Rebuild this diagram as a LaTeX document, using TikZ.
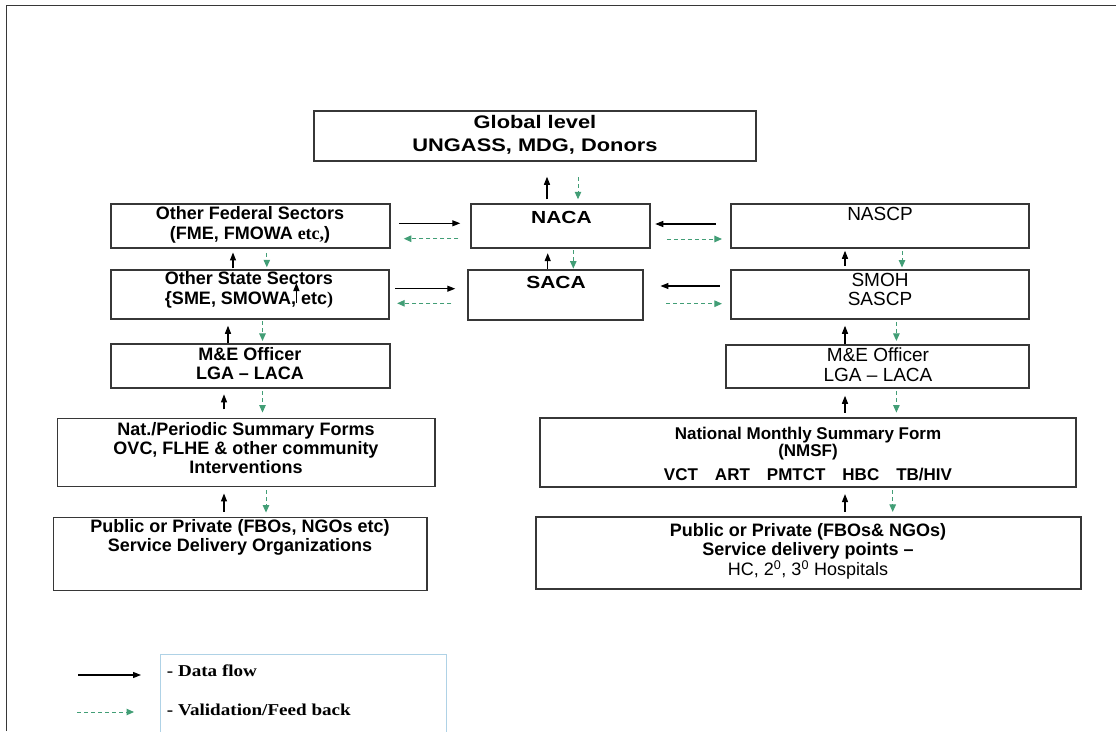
\documentclass[tikz,border=0pt]{standalone}
\usepackage{fontspec}
\setmainfont{Liberation Sans}
\newfontfamily\widesf[FakeStretch=1.2]{Liberation Sans}
\newfontfamily\legendrm[FakeStretch=1.15]{Liberation Serif}
\newfontfamily\etcrm{Liberation Serif}
\usepackage{tikz}
\usetikzlibrary{arrows.meta, calc}

\definecolor{fbgreen}{RGB}{66,158,118}
\definecolor{legendblue}{RGB}{175,210,230}
\definecolor{boxgray}{RGB}{55,55,55}

\begin{document}
\begin{tikzpicture}[x=1pt, y=-1pt,
    box/.style={draw=boxgray, line width=1.5pt, inner sep=0pt},
    boxtext/.style={align=center, inner sep=0pt, font=\fontsize{18}{20}\selectfont\bfseries},
    bigtext/.style={align=center, inner sep=0pt, font=\widesf\fontsize{18.2}{23}\selectfont\bfseries},
    dataflow/.style={-{Triangle[length=8pt, width=6pt]}, line width=1.2pt},
    feedback/.style={-{Triangle[length=7.5pt, width=6.5pt]}, fbgreen, line width=1pt, dash pattern=on 4pt off 3pt}
]
    \useasboundingbox (0,0) rectangle (1116,731);
    \draw[boxgray, line width=1.5pt] (6.5,731) -- (6.5,5.5) -- (1116,5.5);

    % boxes
    \node[box, minimum width=442, minimum height=50] at (535,136) (glob) {};
    \node[box, minimum width=279, minimum height=44] at (250.5,226) (ofed) {};
    \node[box, minimum width=179, minimum height=44] at (560.5,226) (naca) {};
    \node[box, minimum width=298, minimum height=44] at (880,226) (nascp) {};
    \node[box, minimum width=278, minimum height=49] at (250,294.5) (ostate) {};
    \node[box, minimum width=175, minimum height=50] at (555.5,295) (saca) {};
    \node[box, minimum width=298, minimum height=49] at (880,294.5) (smoh) {};
    \node[box, minimum width=279, minimum height=44] at (250.5,366) (mel) {};
    \node[box, minimum width=303, minimum height=43] at (877.5,366.5) (mer) {};
    \node[box, minimum width=377.5, minimum height=68] at (246,452.7) (nat) {};
    \node[box, minimum width=536, minimum height=69] at (808,452.5) (nmsf) {};
    \node[box, minimum width=373.4, minimum height=73] at (240.3,554.2) (publ) {};
    \node[box, minimum width=545, minimum height=72] at (808.5,553) (pubr) {};

    % texts
    \node[bigtext] at (535,134.5) (globtxt) {Global level\\UNGASS, MDG, Donors};
    \node[boxtext] at (250,225) (ofedtxt) {Other Federal Sectors\\(FME, FMOWA {\etcrm etc,})};
    \node[bigtext, font=\widesf\fontsize{17.5}{20}\selectfont\bfseries] at (561.5,217.3) (nacatxt) {NACA};
    \node[boxtext, font=\fontsize{19}{20}\selectfont] at (880,214.3) (nascptxt) {NASCP};
    \node[boxtext] at (249,290) (ostatetxt) {Other State Sectors\\\{SME, SMOWA, etc{\etcrm)}};
    \node[bigtext, font=\widesf\fontsize{17.5}{20}\selectfont\bfseries] at (556,282.3) (sacatxt) {SACA};
    \node[boxtext, font=\fontsize{19}{19}\selectfont] at (880,289.5) (smohtxt) {SMOH\\SASCP};
    \node[boxtext, font=\fontsize{18}{19.3}\selectfont\bfseries] at (250,363.7) (meltxt) {M\&E Officer\\LGA – LACA};
    \node[boxtext, font=\fontsize{19}{20}\selectfont] at (878,365) (mertxt) {M\&E Officer\\LGA – LACA};
    \node[boxtext, font=\fontsize{18}{19}\selectfont\bfseries] at (246,448) (nattxt) {Nat./Periodic Summary Forms\\OVC, FLHE \& other community\\Interventions};
    \node[boxtext, font=\fontsize{17}{17}\selectfont\bfseries] at (808,454) (nmsftxt) {National Monthly Summary Form\\(NMSF)\\[6.6pt]VCT\quad ART\quad PMTCT\quad HBC\quad TB/HIV};
    \node[boxtext, font=\fontsize{18}{19}\selectfont\bfseries] at (240,537.8) (publtxt) {Public or Private (FBOs, NGOs etc)\\Service Delivery Organizations};
    \node[boxtext, font=\fontsize{18}{19.5}\selectfont\bfseries] at (808,551.2) (pubrtxt) {Public or Private (FBOs\& NGOs)\\Service delivery points –\\{\mdseries HC, 2\textsuperscript{0}, 3\textsuperscript{0} Hospitals}};

    % centre column
    \draw[dataflow, shorten <=4pt, shorten >=15pt] ([xshift=-13.5]naca.north) -- ([xshift=12]glob.south);
    \draw[feedback, shorten <=15.4pt, shorten >=4pt] ([xshift=43]glob.south) -- ([xshift=17.5]naca.north);
    \draw[dataflow, shorten <=0.7pt, shorten >=4.4pt] ([xshift=-7.8]saca.north) -- ([xshift=-12.8]naca.south);
    \draw[feedback, shorten <=1.7pt, shorten >=0.7pt] ([xshift=12.8]naca.south) -- ([xshift=17.8]saca.north);

    % sideways
    \draw[dataflow, shorten <=8pt, shorten >=10pt] ([yshift=2.7]ofed.east) -- ([yshift=2.7]naca.west);
    \draw[feedback, shorten <=12pt, shorten >=13pt] ([yshift=-12.7]naca.west) -- ([yshift=-12.7]ofed.east);
    \draw[dataflow, shorten <=5.4pt, shorten >=12pt] ([yshift=5.8]ostate.east) -- ([yshift=6.3]saca.west);
    \draw[feedback, shorten <=16pt, shorten >=7.4pt] ([yshift=-8.3]saca.west) -- ([yshift=-8.8]ostate.east);
    \draw[dataflow, shorten <=14.5pt, shorten >=4.5pt] ([yshift=2]nascp.west) -- ([yshift=2]naca.east);
    \draw[feedback, shorten <=16pt, shorten >=8.3pt] ([yshift=-13]naca.east) -- ([yshift=-13]nascp.west);
    \draw[dataflow, shorten <=10.3pt, shorten >=16.7pt] ([yshift=8.5]smoh.west) -- ([yshift=9]saca.east);
    \draw[feedback, shorten <=22.7pt, shorten >=8.3pt] ([yshift=-8.7]saca.east) -- ([yshift=-9.2]smoh.west);

    % left column
    \draw[dataflow, shorten <=1pt, shorten >=3.7pt] ([xshift=-17]ostate.north) -- ([xshift=-17.5]ofed.south);
    \draw[feedback, shorten <=4pt, shorten >=2pt] ([xshift=16.3]ofed.south) -- ([xshift=16.8]ostate.north);
    \draw[dataflow, shorten >=6pt] ([xshift=-22.5]mel.north) -- ([xshift=-22]ostate.south);
    \draw[feedback, shorten <=1.7pt, shorten >=2.3pt] ([xshift=12.5]ostate.south) -- ([xshift=12]mel.north);
    \draw[dataflow, shorten <=8.7pt, shorten >=5.6pt] ([xshift=-22]nat.north) -- ([xshift=-26.5]mel.south);
    \draw[feedback, shorten <=2.3pt, shorten >=5.4pt] ([xshift=12]mel.south) -- ([xshift=16.5]nat.north);
    \draw[dataflow, shorten <=5pt, shorten >=6pt] ([xshift=-16.3]publ.north) -- ([xshift=-22]nat.south);
    \draw[feedback, shorten <=2.6pt, shorten >=4.4pt] ([xshift=20]nat.south) -- ([xshift=25.7]publ.north);

    % right column
    \draw[dataflow, shorten <=3.3pt, shorten >=2pt] ([xshift=-35]smoh.north) -- ([xshift=-35]nascp.south);
    \draw[feedback, shorten <=2.7pt, shorten >=1.7pt] ([xshift=22]nascp.south) -- ([xshift=22]smoh.north);
    \draw[dataflow, shorten >=6pt] ([xshift=-32.5]mer.north) -- ([xshift=-35]smoh.south);
    \draw[feedback, shorten <=2pt, shorten >=3.3pt] ([xshift=16.4]smoh.south) -- ([xshift=18.9]mer.north);
    \draw[dataflow, shorten <=4.7pt, shorten >=7pt] ([xshift=37]nmsf.north) -- ([xshift=-32.5]mer.south);
    \draw[feedback, shorten <=2pt, shorten >=4.7pt] ([xshift=18.9]mer.south) -- ([xshift=88.4]nmsf.north);
    \draw[dataflow, shorten <=4.3pt, shorten >=6.3pt] ([xshift=36.5]pubr.north) -- ([xshift=37]nmsf.south);
    \draw[feedback, shorten <=2.3pt, shorten >=4.3pt] ([xshift=84.7]nmsf.south) -- ([xshift=84.2]pubr.north);

    \coordinate (strayfoot) at (296.4,303);
    \coordinate (strayhead) at (296.4,283);
    \draw[dataflow] (strayfoot) -- (strayhead);

    % legend
    \draw[legendblue, line width=0.8pt] (160,735) -- (160,654) -- (446,654) -- (446,735);
    \coordinate (flowfrom) at (78,675);
    \coordinate (flowto) at (141,675);
    \coordinate (backfrom) at (77,712);
    \coordinate (backto) at (134,712);
    \draw[dataflow] (flowfrom) -- (flowto);
    \draw[feedback] (backfrom) -- (backto);
    \node[anchor=base west, inner sep=0pt, font=\legendrm\fontsize{16.6}{18}\selectfont\bfseries] at (166.7,676) (flowlbl) {- Data flow};
    \node[anchor=base west, inner sep=0pt, font=\legendrm\fontsize{16.6}{18}\selectfont\bfseries] at (166.7,715) (backlbl) {- Validation/Feed back};
\end{tikzpicture}
\end{document}
